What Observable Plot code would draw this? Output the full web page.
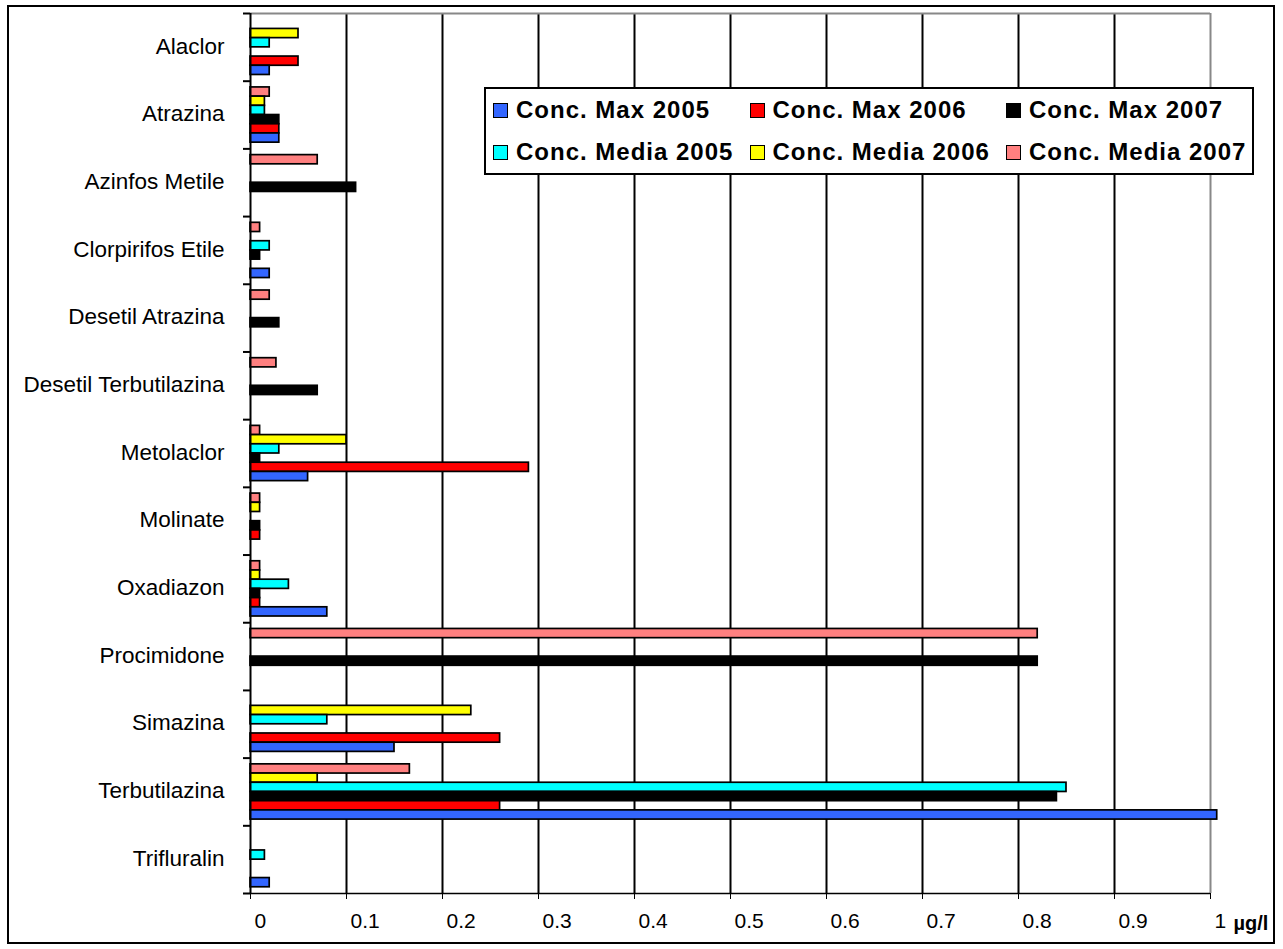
<!DOCTYPE html>
<html>
<head>
<meta charset="utf-8">
<script src="https://cdn.jsdelivr.net/npm/d3@7"></script>
<script src="https://cdn.jsdelivr.net/npm/@observablehq/plot@0.6"></script>
<style>
  html, body { margin: 0; padding: 0; background: #fff; }
  #wrap { position: relative; width: 1283px; height: 949px; font-family: "Liberation Sans", Arial, sans-serif; }
  #wrap svg { position: absolute; left: 0; top: 0; }
  #border { position: absolute; left: 7px; top: 5px; width: 1268px; height: 939px; border: 2px solid #000; box-sizing: border-box; pointer-events: none; }
  #legend { position: absolute; left: 484px; top: 87px; width: 770px; height: 88px; border: 2px solid #000; box-sizing: border-box; background: #fff; }
  .item { position: absolute; display: flex; align-items: center; height: 42px; font-weight: bold; font-size: 24px; letter-spacing: 1px; white-space: nowrap; color: #000; }
  .sw { width: 15px; height: 15px; border: 1.5px solid #000; box-sizing: border-box; margin-right: 8px; flex: none; }
</style>
</head>
<body>
<div id="wrap"><div id="legend"></div><div id="border"></div></div>
<script>
// ---- data ----
const categories = ["Alaclor", "Atrazina", "Azinfos Metile", "Clorpirifos Etile", "Desetil Atrazina",
  "Desetil Terbutilazina", "Metolaclor", "Molinate", "Oxadiazon", "Procimidone", "Simazina",
  "Terbutilazina", "Trifluralin"];
const maxNames = ["Conc. Max 2005", "Conc. Max 2006", "Conc. Max 2007"];
const mediaNames = ["Conc. Media 2005", "Conc. Media 2006", "Conc. Media 2007"];
const max2005   = [0.02, 0.03, null, 0.02, null, null, 0.06, null, 0.08, null, 0.15, 1.007, 0.02];
const max2006   = [0.05, 0.03, null, null, null, null, 0.29, 0.01, 0.01, null, 0.26, 0.26, null];
const max2007   = [null, 0.03, 0.11, 0.01, 0.03, 0.07, 0.01, 0.01, 0.01, 0.82, null, 0.84, null];
const media2005 = [0.02, 0.015, null, 0.02, null, null, 0.03, null, 0.04, null, 0.08, 0.85, 0.015];
const media2006 = [0.05, 0.015, null, null, null, null, 0.1, 0.01, 0.01, null, 0.23, 0.07, null];
const media2007 = [null, 0.02, 0.07, 0.01, 0.02, 0.027, 0.01, 0.01, 0.01, 0.82, null, 0.166, null];
const colors = {
  "Conc. Max 2005": "#3366FF", "Conc. Max 2006": "#FF0000", "Conc. Max 2007": "#000000",
  "Conc. Media 2005": "#00FFFF", "Conc. Media 2006": "#FFFF00", "Conc. Media 2007": "#FF8080"
};
const xTicks = [0, 0.1, 0.2, 0.3, 0.4, 0.5, 0.6, 0.7, 0.8, 0.9, 1];
const xTickLabels = ["0", "0.1", "0.2", "0.3", "0.4", "0.5", "0.6", "0.7", "0.8", "0.9", "1"];
const unitLabel = "µg/l";

// order of bars inside a category band, from top to bottom
const bandOrder = [
  ["Conc. Media 2007", media2007], ["Conc. Media 2006", media2006], ["Conc. Media 2005", media2005],
  ["Conc. Max 2007", max2007], ["Conc. Max 2006", max2006], ["Conc. Max 2005", max2005]
];

// ---- layout ----
const W = 1283, H = 949, mt = 13, mb = 56, ml = 250, mr = 73;
const bw = (H - mt - mb) / categories.length;
const barH = bw * 0.136;
const gap = (bw - bandOrder.length * barH) / 2;
const xMax = xTicks[xTicks.length - 1];
const tickLenData = 7 / (W - ml - mr) * xMax;
const font = "'Liberation Sans', Arial, sans-serif";

const barMarks = bandOrder.map(([name, vals], k) =>
  Plot.barX(
    categories.map((c, i) => ({c, v: vals[i]})).filter(d => d.v != null),
    {y: "c", x1: 0, x2: "v", fill: colors[name], stroke: "#000", strokeWidth: 1.7,
     insetTop: gap + k * barH, insetBottom: bw - gap - (k + 1) * barH}
  )
);

const chart = Plot.plot({
  width: W, height: H,
  marginTop: mt, marginBottom: mb, marginLeft: ml, marginRight: mr,
  style: {fontFamily: font, fontSize: "21px", background: "transparent", color: "#000"},
  x: {domain: [0, xMax], ticks: xTicks, tickSize: 6, tickFormat: () => "", label: null},
  y: {type: "band", domain: categories, padding: 0, round: false, axis: null},
  marks: [
    // grid
    Plot.ruleX(xTicks.slice(1, -1), {stroke: "#000", strokeWidth: 2}),
    Plot.ruleX([xMax], {stroke: "#888", strokeWidth: 2}),
    Plot.ruleY([categories[0]], {dy: -bw / 2, stroke: "#888", strokeWidth: 2}),
    ...barMarks,
    Plot.ruleY([categories[categories.length - 1]], {dy: bw / 2, stroke: "#000", strokeWidth: 1.5}),
    Plot.ruleX([0], {stroke: "#000", strokeWidth: 2}),
    // category boundary ticks
    Plot.ruleY(categories, {y: d => d, x1: -tickLenData, x2: 0, dy: -bw / 2, stroke: "#000", strokeWidth: 2}),
    Plot.ruleY([categories[categories.length - 1]], {y: d => d, x1: -tickLenData, x2: 0, dy: bw / 2, stroke: "#000", strokeWidth: 2}),
    // category labels
    Plot.text(categories, {y: d => d, text: d => d, frameAnchor: "left", textAnchor: "end", dx: -26, dy: -1, fontSize: 22.5, fill: "#000"}),
    // x tick labels
    Plot.text(xTicks, {x: d => d, text: (d, i) => xTickLabels[i], frameAnchor: "bottom", textAnchor: "start", dx: 4, dy: 34, fontSize: 21, fill: "#000"}),
    Plot.text([unitLabel], {x: () => xMax, text: d => d, frameAnchor: "bottom", textAnchor: "start", dx: 23, dy: 36, fontSize: 20, fontWeight: "bold", fill: "#000"})
  ]
});
document.getElementById("wrap").prepend(chart);

// ---- legend ----
const legend = document.getElementById("legend");
const rows = [maxNames, mediaNames];
rows.forEach((row, r) => {
  row.forEach((name, c) => {
    const it = document.createElement("div");
    it.className = "item";
    it.style.left = (7 + c * 256.5) + "px";
    it.style.top = (0 + r * 42) + "px";
    const sw = document.createElement("div");
    sw.className = "sw";
    sw.style.background = colors[name];
    const tx = document.createElement("span");
    tx.textContent = name;
    it.appendChild(sw); it.appendChild(tx);
    legend.appendChild(it);
  });
});
</script>
</body>
</html>
